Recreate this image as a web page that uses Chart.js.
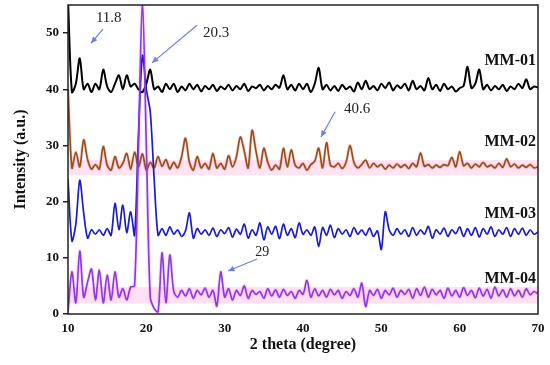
<!DOCTYPE html>
<html><head><meta charset="utf-8">
<script src="https://cdn.jsdelivr.net/npm/chart.js@4.4.1/dist/chart.umd.min.js"></script>
<style>html,body{margin:0;padding:0;background:#fff}#wrap{width:550px;height:365px}</style>
</head><body><div id="wrap"><canvas id="c" width="550" height="365"></canvas></div>
<script>
// 2-theta angles (degree)
const angles = [10,10.5,11,11.5,12,12.5,13,13.5,14,14.5,15,15.5,16,16.5,17,17.5,18,18.5,19,19.5,
20,20.5,21,21.5,22,22.5,23,23.5,24,24.5,25,25.5,26,26.5,27,27.5,28,28.5,29,29.5,
30,30.5,31,31.5,32,32.5,33,33.5,34,34.5,35,35.5,36,36.5,37,37.5,38,38.5,39,39.5,
40,40.5,41,41.5,42,42.5,43,43.5,44,44.5,45,45.5,46,46.5,47,47.5,48,48.5,49,49.5,
50,50.5,51,51.5,52,52.5,53,53.5,54,54.5,55,55.5,56,56.5,57,57.5,58,58.5,59,59.5,
60,60.5,61,61.5,62,62.5,63,63.5,64,64.5,65,65.5,66,66.5,67,67.5,68,68.5,69,69.5,70];

const mm01 = [56,39.5,41,45.5,40,41,39.5,41,40,43.5,40.5,39.5,41,42.5,40,42.5,40.5,41,40,39.5,
41,43.5,40,40.5,39.5,41,40,41,39.5,40.5,39.8,41,40,40.8,39.6,40.6,40,40.8,39.7,40.5,
40,40.8,39.8,40.6,40,41,39.7,40.5,40.2,40.8,39.8,40.6,40,40.8,40.3,42.5,40,40.8,39.8,41,
40,41,39.5,41,43.8,40,40.8,39.8,40.6,39.7,40.8,40,40.5,39.6,41.2,40,41.5,40,40.6,39.8,
41,40.2,41.2,39.8,40.7,40.2,41,39.8,41.5,40,40.6,39.8,42,40,40.8,39.7,41,40,40.5,39.6,
40.2,40.6,44,40.2,41,43.5,40,40.8,39.8,40.6,40,40.8,39.7,40.5,40,41,40.2,41.8,40,40.5,40.3];

const mm02 = [40,26,28.8,26.2,31,27.5,25.8,26.6,25.8,29.8,26.5,25.6,28,26,26.8,28.6,25.8,28.8,26.2,28.5,
25.6,27,26,28,26.3,27.5,25.8,27,26,28,31.3,27,25.6,28,26,26.8,25.8,28.6,26,26.8,
25.8,28.2,26.2,28,31.5,29,26,32.7,29,26,29.5,27,25.6,26.5,25.8,29.5,26.2,29.2,26.5,26,
26.8,25.6,26.6,27.2,29.5,26,30.5,26.5,26.2,26.8,25.9,27,30,27,26,26.6,27.4,26,26.8,26.2,
26.6,25.8,26.5,26,26.7,26.1,26.6,25.9,26.8,26.2,28.7,26.3,26.6,26,26.5,26.1,26.6,26.4,27.9,26.2,
28.9,26.4,26.8,26,26.7,26.2,27,26.2,26.5,26,26.8,26.1,27.6,26.2,26.7,26,26.5,26.1,26.6,26,26.2];

const mm03 = [24,13,16,23.8,18,13.5,15,14.2,15,14,15.2,14,19.7,15,19.4,14.5,18.2,14,32,46,
40,36,24,14,15.2,14,15.5,14.2,15,13.8,14.8,18,13.5,15.2,14.2,15,14,15.3,13.8,15,
14.3,15.4,13.7,15.1,14.2,16,13.5,15,14,16.2,13.2,15.5,14.2,15.6,13.4,16,14,15.2,13.6,16.2,
14.2,15,14,15.5,12,15.4,14,15.8,13.6,15.2,14.2,15,13.8,15.4,14.2,15,14,15.3,13.8,14.8,
11.5,18.2,15,14,15.2,14.2,15,13.8,15.4,14,15,14.2,15.6,13.5,15,14.2,15.3,13.8,15,14.3,
15.5,13.8,15.2,14,15.4,13.7,15.2,14.2,15.5,13.8,15,14.2,15.4,13.8,15.2,14.2,15.3,14,15,14.2,14.6];

const mm04 = [0.5,7.5,2,11.2,3,5.7,8,2.5,7.8,2,6.9,2.5,7.5,3,4.5,2.5,4.8,5,30,56,
30,3,1,0.4,10.9,2,10.5,4,3,4.2,3.2,4.5,2.8,4.2,3.4,4.6,3,4.2,1.4,7.5,
3,4.5,2.5,4.2,3.3,5,2.8,4.2,3.5,4,2.8,4.5,3.2,4.3,3,4.4,3.3,4,2.8,4.2,
3.5,6,3,4.5,3.2,4.2,3,4.4,3.4,4.2,2.8,4,3.3,4.5,3,5.5,1.3,4.2,3.3,4.4,
2.8,4.2,3.4,4.6,3,4.2,3.5,4.4,2.8,4.5,3.3,4.8,3,4.4,3.4,4.2,2.8,4.6,3.2,4.2,
3,4.7,3.3,4.2,2.9,4.6,3.2,4.4,2.8,4.8,3.2,4.3,3,4.5,3.2,4.2,3,4.5,3.4,4,3.6];

const seriesNames = ['MM-01','MM-02','MM-03','MM-04'];
const yTicks = [0,10,20,30,40,50];
const xTicks = [10,20,30,40,50,60,70];

// annotation layout (data coordinates)
const nameAnchor = {x:69.75, y:[45.0,30.6,17.8,6.2]};
const notes = [
  {text:'11.8', tx:15.2, ty:52.7, x1:14.47, y1:50.7, x2:12.94, y2:48.2, size:15},
  {text:'20.3', tx:28.9, ty:50.0, x1:26.47, y1:51.4, x2:20.72, y2:44.7, size:15},
  {text:'40.6', tx:46.9, ty:36.5, x1:44.09, y1:36.0, x2:42.30, y2:31.5, size:15},
  {text:'29',   tx:34.8, ty:11.0, x1:34.13, y1:9.8,  x2:30.43, y2:7.65, size:14}
];
const bands = [
  {from:10, to:70, lo:24.7, hi:27.4, color:'rgba(255,182,222,0.38)'},
  {from:10, to:70, lo:1.9, hi:4.8, color:'rgba(255,170,225,0.38)'}
];

const pts = arr => arr.map((v,i)=>({x:angles[i], y:v}));
const serif = "'Liberation Serif','DejaVu Serif',serif";

const decor = {
  id:'decor',
  beforeDatasetsDraw(chart){
    const {ctx, scales:{x,y}} = chart;
    ctx.save();
    bands.forEach(b=>{
      const x0=x.getPixelForValue(b.from), x1=x.getPixelForValue(b.to);
      const yA=y.getPixelForValue(b.hi), yB=y.getPixelForValue(b.lo);
      ctx.fillStyle=b.color; ctx.fillRect(x0,yA,x1-x0,yB-yA);
    });
    ctx.restore();
  },
  afterDatasetsDraw(chart){
    const {ctx, chartArea:a, scales:{x,y}} = chart;
    ctx.save();
    ctx.strokeStyle='#222'; ctx.lineWidth=1.5;
    ctx.strokeRect(a.left, a.top, a.right-a.left, a.bottom-a.top);
    ctx.fillStyle='#111'; ctx.font="bold 16px "+serif;
    ctx.textAlign='right'; ctx.textBaseline='middle';
    seriesNames.forEach((n,i)=>ctx.fillText(n, x.getPixelForValue(nameAnchor.x), y.getPixelForValue(nameAnchor.y[i])));
    notes.forEach(nt=>{
      ctx.fillStyle='#222'; ctx.font=nt.size+"px "+serif; ctx.textAlign='center';
      ctx.fillText(nt.text, x.getPixelForValue(nt.tx), y.getPixelForValue(nt.ty));
      const px1=x.getPixelForValue(nt.x1), py1=y.getPixelForValue(nt.y1);
      const px2=x.getPixelForValue(nt.x2), py2=y.getPixelForValue(nt.y2);
      ctx.strokeStyle='#6f7fd6'; ctx.fillStyle='#6f7fd6'; ctx.lineWidth=1.2;
      ctx.beginPath(); ctx.moveTo(px1,py1); ctx.lineTo(px2,py2); ctx.stroke();
      const ang=Math.atan2(py2-py1, px2-px1), L=7, W=0.42;
      ctx.beginPath(); ctx.moveTo(px2,py2);
      ctx.lineTo(px2-L*Math.cos(ang-W), py2-L*Math.sin(ang-W));
      ctx.lineTo(px2-L*Math.cos(ang+W), py2-L*Math.sin(ang+W));
      ctx.closePath(); ctx.fill();
    });
    ctx.restore();
  }
};

const line = (data, color, w, order) => ({data:pts(data), borderColor:color, borderWidth:w, pointRadius:0, tension:0.3, fill:false, order});

new Chart(document.getElementById('c'), {
  type:'line',
  data:{datasets:[
    line(mm04,'#8a3ce0',1.7,1),
    line(mm04,'rgba(255,100,220,0.18)',4,5),
    line(mm03,'#1c1cc8',1.7,2),
    line(mm02,'#94501e',1.7,3),
    line(mm02,'rgba(235,60,60,0.18)',3.5,6),
    line(mm01,'#000000',2,4)
  ]},
  options:{
    responsive:false, animation:false, devicePixelRatio:1,
    layout:{padding:{top:5,right:12,left:0,bottom:0}},
    plugins:{legend:{display:false}, tooltip:{enabled:false}},
    scales:{
      x:{type:'linear', min:10, max:70,
        afterBuildTicks:s=>{s.ticks=xTicks.map(v=>({value:v}));},
        afterFit:s=>{s.height=51; s.paddingLeft=0; s.paddingRight=0;},
        grid:{display:false, drawTicks:false},
        border:{display:false},
        ticks:{padding:7, color:'#111', font:{family:serif, size:13, weight:'bold'}},
        title:{display:true, text:'2 theta (degree)', color:'#111', padding:{top:0,bottom:11}, font:{family:serif, size:16, weight:'bold'}}
      },
      y:{type:'linear', min:0, max:55,
        afterBuildTicks:s=>{s.ticks=yTicks.map(v=>({value:v}));},
        afterFit:s=>{s.width=68; s.paddingTop=0; s.paddingBottom=0;},
        grid:{display:true, drawOnChartArea:false, drawTicks:true, tickLength:5, color:'#222', lineWidth:1.5},
        border:{display:false},
        ticks:{padding:4, color:'#111', font:{family:serif, size:13, weight:'bold'}},
        title:{display:true, text:'Intensity (a.u.)', color:'#111', padding:{top:11,bottom:0}, font:{family:serif, size:16, weight:'bold'}}
      }
    }
  },
  plugins:[decor]
});
</script></body></html>
